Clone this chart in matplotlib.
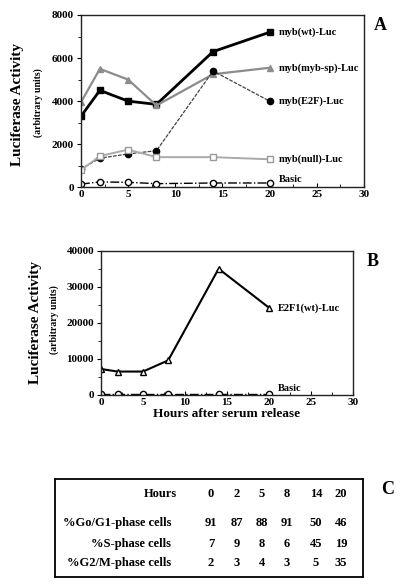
import matplotlib
matplotlib.use("Agg")
import matplotlib.pyplot as plt
from matplotlib.ticker import MultipleLocator

plt.rcParams['font.family'] = ['Liberation Serif', 'DejaVu Serif']
plt.rcParams['font.weight'] = 'bold'

hours = [0, 2, 5, 8, 14, 20]
myb_wt = [3300, 4500, 4000, 3850, 6300, 7200]
myb_sp = [3950, 5500, 5000, 3800, 5250, 5550]
myb_e2f = [850, 1350, 1550, 1700, 5400, 4000]
myb_null = [800, 1450, 1750, 1400, 1400, 1300]
basic_a = [150, 250, 230, 170, 200, 200]

e2f1_wt = [7200, 6500, 6500, 9600, 35000, 24200]
basic_b = [200, 200, 200, 200, 200, 200]

table_cols = ["0", "2", "5", "8", "14", "20"]
g1 = [91, 87, 88, 91, 50, 46]
s_phase = [7, 9, 8, 6, 45, 19]
g2m = [2, 3, 4, 3, 5, 35]
row_labels = ["%Go/G1-phase cells", "%S-phase cells", "%G2/M-phase cells"]

W, H = 404, 587
fig = plt.figure(figsize=(W / 100, H / 100), dpi=100)

def ax_at(l, t, r, b):
    return fig.add_axes([l / W, 1 - b / H, (r - l) / W, (b - t) / H])

def style(ax):
    for s in ax.spines.values():
        s.set_linewidth(1.0)
        s.set_color('#222222')
    ax.tick_params(axis='both', labelsize=8, width=0.8, length=3, pad=2)
    ax.tick_params(axis='x', direction='in')
    ax.tick_params(axis='y', direction='out')
    ax.tick_params(which='minor', length=2, width=0.6)
    ax.tick_params(axis='x', which='minor', direction='in')
    ax.xaxis.set_minor_locator(MultipleLocator(2.5))
    for lab in ax.get_xticklabels() + ax.get_yticklabels():
        lab.set_fontweight('bold')

# Panel A
axA = ax_at(81, 15, 364, 187.3)
axA.plot(hours, myb_wt, color='black', lw=2, marker='s', ms=5, mfc='black', mec='black')
axA.plot(hours, myb_sp, color='#8c8c8c', lw=1.6, marker='^', ms=5, mfc='#8c8c8c', mec='#8c8c8c')
axA.plot(hours, myb_e2f, color='#444444', lw=0.9, ls=(0, (3, 1)), marker='o', ms=4.5, mfc='black', mec='black')
axA.plot(hours, myb_null, color='#aaaaaa', lw=1.4, marker='s', ms=5, mfc='white', mec='#999999')
axA.plot(hours, basic_a, color='black', lw=1.0, ls='-.', marker='o', ms=4.5, mfc='white', mec='black')
axA.set_xlim(0, 30)
axA.set_ylim(0, 8000)
axA.set_xticks(range(0, 31, 5))
axA.set_yticks(range(0, 8001, 2000))
axA.yaxis.set_minor_locator(MultipleLocator(1000))
style(axA)

fs_lab = 7.5
for txt, val in [("myb(wt)-Luc", myb_wt[-1]), ("myb(myb-sp)-Luc", myb_sp[-1]),
                 ("myb(E2F)-Luc", myb_e2f[-1]), ("myb(null)-Luc", myb_null[-1]),
                 ("Basic", basic_a[-1] + 180)]:
    axA.text(21.0, val, txt, fontsize=fs_lab, fontweight='bold', va='center', ha='left')

fig.text(380 / W, 1 - 25 / H, "A", fontsize=13, fontweight='bold', ha='center', va='center')
fig.text(18 / W, 1 - 105 / H, "Luciferase Activity", fontsize=11, fontweight='bold',
         rotation=90, ha='center', va='center')
fig.text(38 / W, 1 - 103 / H, "(arbitrary units)", fontsize=7, fontweight='bold',
         rotation=90, ha='center', va='center')

# Panel B
axB = ax_at(101, 250.7, 353, 395)
axB.plot(hours, e2f1_wt, color='black', lw=1.5, marker='^', ms=5, mfc='white', mec='black')
axB.plot(hours, basic_b, color='black', lw=1.0, ls='-.', marker='o', ms=4.5, mfc='white', mec='black')
axB.set_xlim(0, 30)
axB.set_ylim(0, 40000)
axB.set_xticks(range(0, 31, 5))
axB.set_yticks(range(0, 40001, 10000))
axB.yaxis.set_minor_locator(MultipleLocator(5000))
style(axB)
axB.set_xlabel("Hours after serum release", fontsize=9.5, fontweight='bold', labelpad=1)
axB.text(21.0, e2f1_wt[-1], "E2F1(wt)-Luc", fontsize=fs_lab, fontweight='bold', va='center', ha='left')
axB.text(21.0, basic_b[-1] + 1600, "Basic", fontsize=fs_lab, fontweight='bold', va='center', ha='left')

fig.text(373 / W, 1 - 261 / H, "B", fontsize=13, fontweight='bold', ha='center', va='center')
fig.text(35 / W, 1 - 322 / H, "Luciferase Activity", fontsize=11, fontweight='bold',
         rotation=90, ha='center', va='center')
fig.text(54 / W, 1 - 320 / H, "(arbitrary units)", fontsize=7, fontweight='bold',
         rotation=90, ha='center', va='center')

# Panel C table
axC = ax_at(55, 479, 363, 577)
axC.set_xlim(55, 363)
axC.set_ylim(577, 479)
axC.set_xticks([])
axC.set_yticks([])
for s in axC.spines.values():
    s.set_linewidth(1.3)
    s.set_color('black')

col_x = [211, 237, 262, 287, 316, 341]
row_y = [523, 544, 563]
fs_t = 9
axC.text(177, 494, "Hours", fontsize=fs_t, fontweight='bold', ha='right', va='center')
for x, c in zip(col_x, table_cols):
    axC.text(x, 494, c, fontsize=fs_t, fontweight='bold', ha='center', va='center')
for y, lab, vals in zip(row_y, row_labels, [g1, s_phase, g2m]):
    axC.text(171, y, lab, fontsize=fs_t, fontweight='bold', ha='right', va='center')
    for x, v in zip(col_x, vals):
        axC.text(x, y, str(v), fontsize=fs_t, fontweight='bold', ha='center', va='center')

fig.text(388 / W, 1 - 490 / H, "C", fontsize=13, fontweight='bold', ha='center', va='center')

fig.savefig("out.png", dpi=100)
